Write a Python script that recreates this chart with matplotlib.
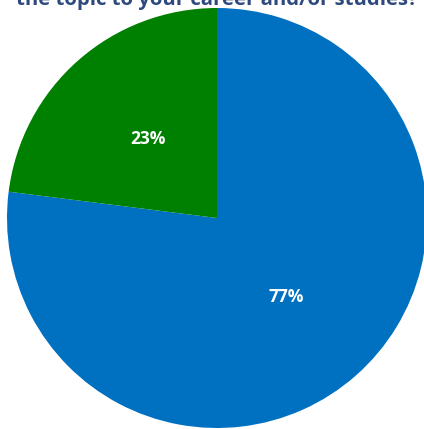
import matplotlib.pyplot as plt

labels = ["Yes", "No"]
values = [77, 23]
colors = ["#0070c0", "#008000"]
title = "the topic to your career and/or studies?"

W, H = 424, 429
cx, cy, r = 217, 218, 210

fig = plt.figure(figsize=(W / 100, H / 100), dpi=100)
ax = fig.add_axes([(cx - r) / W, (H - cy - r) / H, 2 * r / W, 2 * r / H])

wedges, texts, autotexts = ax.pie(
    values, colors=colors, startangle=90, counterclock=False,
    autopct="%d%%", pctdistance=0.5, radius=1,
    wedgeprops=dict(linewidth=0),
    textprops=dict(color="white", fontsize=12.5, fontweight="bold", family="Open Sans"),
)
ax.set_xlim(-1, 1)
ax.set_ylim(-1, 1)
ax.axis("off")

# title is clipped by the top edge, as in the original screenshot
fig.text(cx / W, 1 - 5 / H, title, ha="center", va="baseline",
         fontsize=14.7, fontweight="bold", color="#2e4a7d", family="Open Sans")

plt.savefig("out.png", dpi=100)
